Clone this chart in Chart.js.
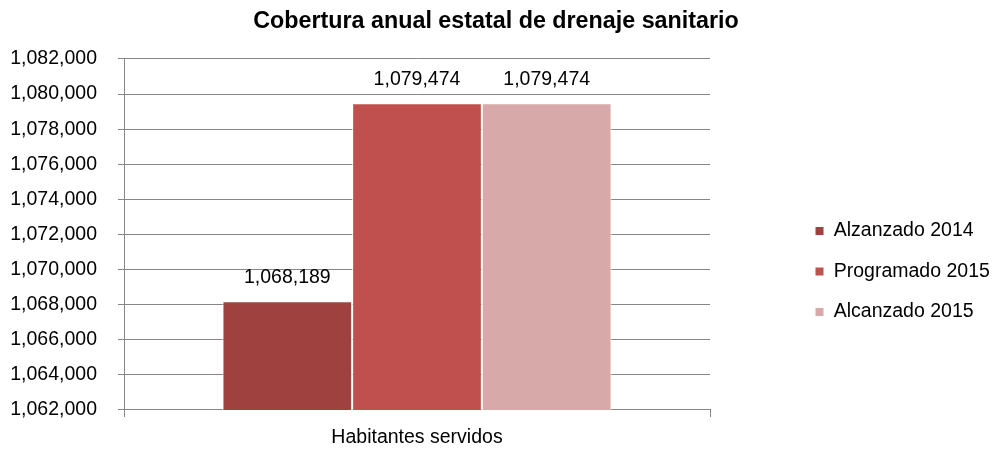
<!DOCTYPE html>
<html>
<head>
<meta charset="utf-8">
<title>Cobertura anual estatal de drenaje sanitario</title>
<script src="https://cdn.jsdelivr.net/npm/chart.js@4"></script>
<style>
  html, body { margin: 0; padding: 0; background: #fff; }
</style>
</head>
<body>
<canvas id="myChart" width="992" height="450"></canvas>
<script>
const categories = ["Habitantes servidos"];
const seriesNames = ["Alzanzado 2014", "Programado 2015", "Alcanzado 2015"];
const alzanzado2014 = [1068189];
const programado2015 = [1079474];
const alcanzado2015 = [1079474];
const yMin = 1062000;
const yMax = 1082000;
const yStep = 2000;

const colors = ["#9E413F", "#C0504D", "#D8A9A9"];
const fontFamily = '"Liberation Sans Narrow", "Arial Narrow", "Liberation Sans", Arial, sans-serif';
const textSize = 19.5;
const gridColor = "#868686";

const fmt = (v) => v.toLocaleString("en-US");

// area of the plot in the reference
const area = { left: 124, right: 710, top: 59, bottom: 410 };

const legendPlace = {
  id: "legendPlace",
  beforeInit(chart) {
    const lg = chart.legend;
    const fit = lg.fit;
    lg.fit = function () {
      fit.call(this);
      this.width = 992 - area.right;
    };
  },
  afterLayout(chart) {
    const lg = chart.legend;
    const pad = lg.options.labels.padding;
    const dx = 815 - pad - lg.left;
    lg.left += dx;
    lg.right += dx;
    lg.top = 231 - textSize / 2 - pad;
  },
};

const barLabels = {
  id: "barLabels",
  afterDatasetsDraw(chart) {
    const ctx = chart.ctx;
    ctx.save();
    ctx.font = textSize + "px " + fontFamily;
    ctx.fillStyle = "#000";
    ctx.textAlign = "center";
    ctx.textBaseline = "alphabetic";
    chart.data.datasets.forEach((ds, i) => {
      chart.getDatasetMeta(i).data.forEach((bar, j) => {
        ctx.fillText(fmt(ds.data[j]), bar.x, bar.y - 18);
      });
    });
    ctx.restore();
  },
};

const ctx = document.getElementById("myChart");
const myChart = new Chart(ctx, {
  type: "bar",
  data: {
    labels: categories,
    datasets: [
      { label: seriesNames[0], data: alzanzado2014, backgroundColor: colors[0] },
      { label: seriesNames[1], data: programado2015, backgroundColor: colors[1] },
      { label: seriesNames[2], data: alcanzado2015, backgroundColor: colors[2] },
    ].map((d) => ({
      ...d,
      borderColor: "#ffffff",
      borderWidth: 1,
      categoryPercentage: 0.664,
      barPercentage: 1,
    })),
  },
  options: {
    responsive: false,
    animation: false,
    layout: { padding: { left: 0, right: 0, top: 0, bottom: 0 } },
    plugins: {
      title: {
        display: true,
        text: "Cobertura anual estatal de drenaje sanitario",
        color: "#000",
        font: { family: fontFamily, size: 23.3, weight: "bold" },
        padding: { top: 8, bottom: 23 },
      },
      legend: {
        display: true,
        position: "right",
        align: "start",
        labels: {
          color: "#000",
          font: { family: fontFamily, size: textSize },
          boxWidth: 9,
          boxHeight: 9,
          padding: 21,
        },
      },
      tooltip: { enabled: false },
    },
    scales: {
      x: {
        grid: {
          display: true,
          drawOnChartArea: false,
          color: gridColor,
          tickLength: 7,
          offset: true,
        },
        border: { display: true, color: gridColor },
        ticks: {
          color: "#000",
          font: { family: fontFamily, size: textSize },
          padding: 9,
        },
        afterFit(scale) {
          scale.height = 450 - area.bottom;
        },
      },
      y: {
        min: yMin,
        max: yMax,
        grid: { color: gridColor, tickLength: 6 },
        border: { display: true, color: gridColor },
        ticks: {
          stepSize: yStep,
          color: "#000",
          font: { family: fontFamily, size: textSize },
          padding: 21,
          callback: (v) => fmt(v),
        },
        afterFit(scale) {
          scale.width = area.left;
        },
      },
    },
  },
  plugins: [legendPlace, barLabels],
});
</script>
</body>
</html>
